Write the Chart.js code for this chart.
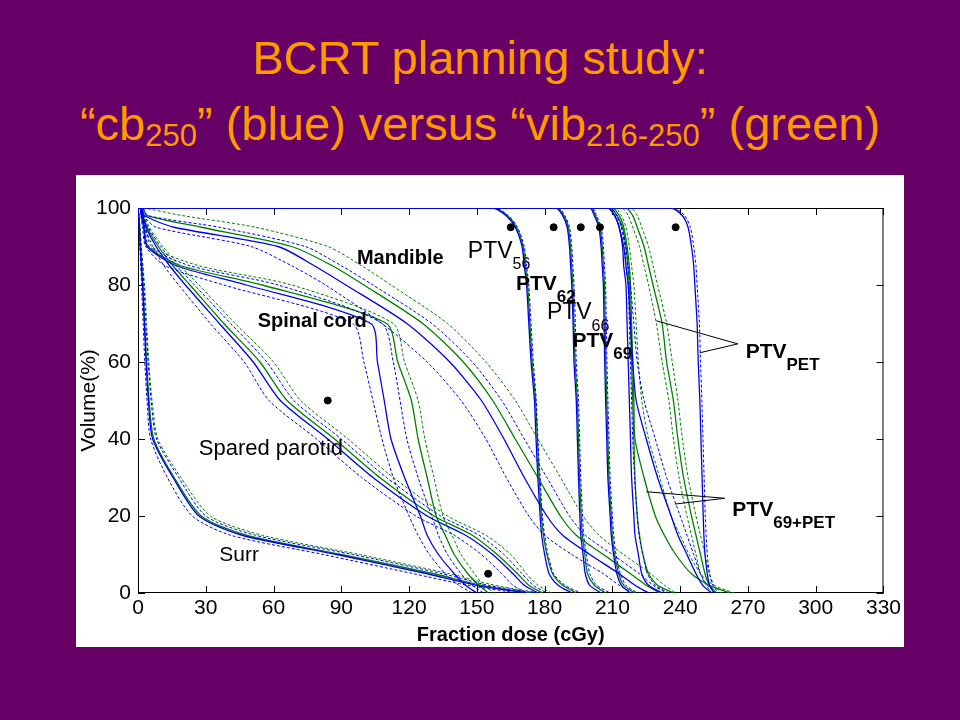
<!DOCTYPE html>
<html lang="en">
<head>
  <meta charset="UTF-8" />
  <title>BCRT planning study</title>
  <style>
    body {
      margin: 0;
      width: 960px;
      height: 720px;
      background: #660066;
      overflow: hidden;
      position: relative;
      font-family: "Liberation Sans", Arial, sans-serif;
    }
    .title {
      position: absolute;
      left: 0;
      width: 960px;
      text-align: center;
      color: #ff9900;
      font-size: 47px;
      line-height: 47px;
      white-space: nowrap;
    }
    .title .sub {
      font-size: 31px;
      vertical-align: -6px;
    }
    #box {
      position: absolute;
      left: 76px;
      top: 175px;
      width: 828px;
      height: 472px;
      background: #fff;
    }
  </style>
</head>
<body>
  <div class="title" style="top:34px">BCRT planning study:</div>
  <div class="title" style="top:100px">“cb<span class="sub">250</span>” (blue) versus “vib<span class="sub">216-250</span>” (green)</div>
  <div id="box"><canvas id="dvh" width="828" height="472"></canvas></div>

  <script src="https://cdn.jsdelivr.net/npm/chart.js"></script>
  <script>
    // volume (%) levels, every curve below gives the dose (cGy) at these levels
    const volLevels = [100, 100, 98, 95, 90, 85, 80, 70, 60, 50, 40, 30, 20, 15, 10, 5, 2, 0];

    const xTicks = [0, 30, 60, 90, 120, 150, 180, 210, 240, 270, 300, 330];
    const yTicks = [0, 20, 40, 60, 80, 100];

    // Surr
    const surrBlue      = [0, 0, 0.3, 0.6, 1, 1.5, 2, 2.8, 3.6, 4.6, 6.5, 15.5, 27, 46, 88, 128, 150, 172];
    const surrBlueDashA = [0, 0, 0.4, 0.8, 1.3, 2, 2.6, 3.5, 4.5, 5.8, 8.2, 18, 30, 52, 95, 135, 155, 176];
    const surrBlueDashB = [0, 0, 0.2, 0.4, 0.8, 1.2, 1.6, 2.3, 3, 4, 5.6, 13, 24, 41, 82, 122, 146, 168];
    const surrGreen     = [0, 0, 0.35, 0.7, 1.1, 1.7, 2.2, 3, 3.8, 4.9, 7, 16, 28, 48, 90, 131, 152, 174];
    const surrGreenDash = [0, 0, 0.5, 0.9, 1.5, 2.2, 2.9, 3.8, 4.8, 6.2, 8.8, 19, 32, 55, 98, 138, 158, 178];

    // Mandible
    const mandBlue      = [0, 1.5, 3, 16, 62, 78, 92, 119, 138, 152, 162, 171, 181, 188, 200, 213, 220, 226];
    const mandGreen     = [0, 2, 4, 28, 68, 86, 100, 126, 144, 157, 167, 177, 187, 194, 206, 218, 225, 231];
    const mandBlueDashA = [0, 1.2, 2.5, 8, 50, 68, 83, 108, 128, 143, 154, 163, 173, 180, 192, 206, 213, 219];
    const mandBlueDashB = [0, 2, 4.5, 36, 74, 90, 104, 130, 148, 161, 171, 181, 191, 198, 210, 222, 228, 234];
    const mandGreenDash = [0, 2.5, 20, 52, 84, 99, 112, 137, 154, 167, 177, 187, 197, 204, 215, 227, 233, 238];

    // Spinal cord
    const cordBlue      = [0, 1, 1.5, 2.5, 4, 17, 48, 103, 106, 109, 112, 118, 125, 128, 133, 140, 145, 150];
    const cordGreen     = [0, 1, 1.6, 2.7, 4.4, 19, 55, 110, 115, 121, 124, 128, 132, 136, 140, 146, 151, 155];
    const cordBlueDashA = [0, 0.8, 1.3, 2, 3.4, 12, 38, 95, 100, 104, 108, 113, 120, 124, 129, 136, 142, 148];
    const cordBlueDashB = [0, 1.2, 2, 3, 5, 23, 62, 108, 113, 116, 119, 124, 130, 133, 137, 143, 148, 153];
    const cordGreenDash = [0, 1.3, 2.2, 3.5, 6, 27, 68, 113, 118, 124, 127, 131, 135, 139, 143, 149, 153, 158];

    // Spared parotid
    const parBlue      = [0, 1, 2, 3.5, 8, 14, 21, 36, 51, 63, 84, 104, 128, 145, 157, 166, 171, 177];
    const parGreen     = [0, 1, 2.2, 4, 9, 15.5, 23, 38, 54, 66, 87, 107, 131, 148, 159, 168, 173, 179];
    const parBlueDashA = [0, 0.8, 1.8, 3, 6.5, 11.5, 18, 32, 47, 58, 79, 99, 123, 140, 152, 161, 166, 172];
    const parBlueDashB = [0, 1.2, 2.5, 4.5, 10, 17, 25, 41, 57, 69, 90, 110, 134, 151, 162, 170, 175, 181];
    const parGreenDash = [0, 1.4, 2.8, 5, 11, 18.5, 27, 43, 60, 72, 93, 113, 137, 154, 165, 172, 177, 183];

    // PTV56 / PTV62 / PTV66 / PTV69
    const p56Blue     = [0, 157, 163, 167, 170, 171, 172, 173, 174, 175.5, 176.2, 177, 178, 178.7, 180, 182, 186, 192];
    const p56BlueDash = [0, 158, 164, 168, 171, 172, 173, 174, 175, 176.3, 177, 178, 179, 180, 181.5, 184, 189, 196];
    const p56Green    = [0, 157, 163.5, 167.5, 170.5, 171.5, 172.5, 173.5, 174.5, 176, 176.8, 177.6, 178.6, 179.5, 181, 183.5, 188, 194];

    const p62Blue     = [0, 185, 188, 190, 191, 191.5, 192, 192.6, 193, 194, 194.5, 195, 195.6, 196, 197, 198, 200, 205];
    const p62BlueDash = [0, 186, 189, 191, 192, 192.5, 193, 193.6, 194, 195, 195.5, 196, 196.8, 197.3, 198.5, 200, 203, 209];
    const p62Green    = [0, 185.5, 188.5, 190.5, 191.5, 192, 192.5, 193, 193.5, 194.5, 195, 195.5, 196.2, 196.7, 197.8, 199, 202, 207];

    const p66Blue     = [0, 200, 202, 204, 205, 205.5, 206, 206.3, 206.6, 207, 207.5, 208, 209, 209.5, 210.5, 212, 214, 218];
    const p66BlueDash = [0, 201, 203, 205, 206, 206.5, 207, 207.3, 207.6, 208, 208.5, 209, 210, 210.6, 211.6, 213.5, 216, 221];
    const p66Green    = [0, 200.5, 202.5, 204.5, 205.5, 206, 206.5, 206.8, 207.1, 207.5, 208, 208.5, 209.5, 210, 211, 212.8, 215, 220];

    const p69Blue     = [0, 208, 211, 213, 214.5, 215, 216, 216.5, 217, 217.5, 218, 218.5, 219.5, 220, 221.5, 223, 226, 232];
    const p69BlueDash = [0, 209, 212, 214, 215.5, 216, 217, 217.5, 218, 218.5, 219, 219.8, 221, 221.8, 223.5, 225.5, 229, 235];
    const p69Green    = [0, 209, 212, 214.5, 216, 216.8, 217.5, 218, 218.5, 219, 219.5, 220, 221, 222, 223.5, 226, 230, 237];

    // PTV69+PET
    const p69petBlue      = [0, 208, 211, 213, 215, 216, 217, 218, 219, 220.5, 225, 230, 236, 239, 243, 247, 250, 254];
    const p69petBlueDash  = [0, 209, 212, 214, 216, 217, 218, 219.5, 221, 224, 229, 234, 240, 243, 246, 249, 252, 256];
    const p69petGreen     = [0, 210, 213, 215, 216.5, 217.5, 218, 218.5, 219, 219.5, 220, 224, 229, 233, 238, 245, 253, 262];
    const p69petGreenDash = [0, 211, 214, 216, 217.5, 218.5, 219.5, 220.5, 221.5, 223, 226, 231, 236, 240, 244, 249, 255, 264];

    // PTV PET
    const petGreen      = [0, 216, 219, 221, 224, 226, 228, 232, 234, 237, 239, 241.5, 245, 247, 249, 251, 253, 256];
    const petGreenDashA = [0, 214, 217, 219, 222, 224, 226, 229.5, 232, 235, 237, 239.5, 243, 245, 247, 249, 251.5, 254];
    const petGreenDashB = [0, 218, 221, 223, 226, 228, 230, 234, 236.5, 239, 241, 243.5, 247, 249, 251, 253, 255, 258];
    const petBlue       = [0, 236, 241, 243.5, 245, 246, 246.5, 247.5, 248, 248.7, 249.2, 249.7, 250.2, 250.5, 251, 252, 253, 255];
    const petBlueDash   = [0, 237, 242, 244.5, 246, 247, 247.5, 248.5, 249, 249.6, 250.1, 250.6, 251.1, 251.5, 252, 253, 254.5, 257];

    // black dots
    const markerDose = [165, 184, 196, 204.5, 238, 84, 155];
    const markerVol  = [95, 95, 95, 95, 95, 50, 5];

    // pointer lines for the PTV_PET and PTV_69+PET labels
    const petPointerDose    = [229.5, 265.5, 248.7];
    const petPointerVol     = [70.7, 64.7, 62.4];
    const p69petPointerDose = [225, 259.7, 237.6];
    const p69petPointerVol  = [26.3, 24.6, 23.1];

    const BLUE = '#0000ee';
    const GREEN = '#008000';
    const FONT = '"Liberation Sans", Arial, sans-serif';

    // [doses, colour, dashed]
    // Chart.js paints the first dataset on top, so blue comes first
    const curves = [
      [surrBlue, BLUE, false], [mandBlue, BLUE, false], [cordBlue, BLUE, false], [parBlue, BLUE, false],
      [p56Blue, BLUE, false], [p62Blue, BLUE, false], [p66Blue, BLUE, false], [p69Blue, BLUE, false],
      [p69petBlue, BLUE, false], [petBlue, BLUE, false],
      [surrBlueDashA, BLUE, true], [surrBlueDashB, BLUE, true], [mandBlueDashA, BLUE, true], [mandBlueDashB, BLUE, true],
      [cordBlueDashA, BLUE, true], [cordBlueDashB, BLUE, true], [parBlueDashA, BLUE, true], [parBlueDashB, BLUE, true],
      [p56BlueDash, BLUE, true], [p62BlueDash, BLUE, true], [p66BlueDash, BLUE, true], [p69BlueDash, BLUE, true],
      [p69petBlueDash, BLUE, true], [petBlueDash, BLUE, true],
      [surrGreen, GREEN, false], [mandGreen, GREEN, false], [cordGreen, GREEN, false], [parGreen, GREEN, false],
      [p56Green, GREEN, false], [p62Green, GREEN, false], [p66Green, GREEN, false], [p69Green, GREEN, false],
      [p69petGreen, GREEN, false], [petGreen, GREEN, false],
      [surrGreenDash, GREEN, true], [mandGreenDash, GREEN, true], [cordGreenDash, GREEN, true], [parGreenDash, GREEN, true],
      [p69petGreenDash, GREEN, true], [petGreenDashA, GREEN, true], [petGreenDashB, GREEN, true]
    ];

    // text labels inside the plot (data coordinates)
    const labels = [
      { text: 'Mandible', x: 96.9, y: 86.8, bold: true, size: 20 },
      { text: 'PTV', sub: '56', x: 146, y: 88.7, bold: false, size: 23, subSize: 16 },
      { text: 'PTV', sub: '62', x: 167.3, y: 80.3, bold: true, size: 21, subSize: 17 },
      { text: 'PTV', sub: '66', x: 181, y: 72.7, bold: false, size: 23, subSize: 16 },
      { text: 'PTV', sub: '69', x: 192.3, y: 65.3, bold: true, size: 21, subSize: 17 },
      { text: 'Spinal cord', x: 53, y: 70.5, bold: true, size: 20 },
      { text: 'Spared parotid', x: 26.9, y: 37.3, bold: false, size: 22 },
      { text: 'Surr', x: 36, y: 9.9, bold: false, size: 21 },
      { text: 'PTV', sub: 'PET', x: 269, y: 62.6, bold: true, size: 21, subSize: 17 },
      { text: 'PTV', sub: '69+PET', x: 263.1, y: 21.6, bold: true, size: 21, subSize: 17 }
    ];

    const datasets = [];

    datasets.push({
      data: markerDose.map((d, i) => ({ x: d, y: markerVol[i] })),
      showLine: false,
      pointRadius: 3.5,
      pointBackgroundColor: '#000',
      pointBorderColor: '#000'
    });

    [[petPointerDose, petPointerVol], [p69petPointerDose, p69petPointerVol]].forEach(([xs, ys]) => {
      datasets.push({
        data: xs.map((d, i) => ({ x: d, y: ys[i] })),
        borderColor: '#000',
        borderWidth: 1,
        showLine: true,
        pointRadius: 0,
        tension: 0
      });
    });

    curves.forEach(([doses, colour, dashed]) => {
      datasets.push({
        data: doses.map((d, i) => ({ x: d, y: volLevels[i] })),
        borderColor: colour,
        borderWidth: dashed ? 1 : 1.3,
        borderDash: dashed ? [3, 2] : [],
        showLine: true,
        pointRadius: 0,
        tension: 0.25
      });
    });

    // box + inward ticks on all four sides, like the matlab axes
    const frame = {
      id: 'frame',
      beforeDatasetsDraw(chart) {
        const { ctx, chartArea: a, scales: { x, y } } = chart;
        ctx.save();
        ctx.strokeStyle = '#000';
        ctx.lineWidth = 1;
        ctx.strokeRect(a.left + 0.5, a.top + 0.5, a.right - a.left - 1, a.bottom - a.top - 1);
        ctx.beginPath();
        x.ticks.forEach(t => {
          const p = Math.round(x.getPixelForValue(t.value)) + 0.5;
          ctx.moveTo(p, a.bottom); ctx.lineTo(p, a.bottom - 7);
          ctx.moveTo(p, a.top); ctx.lineTo(p, a.top + 7);
        });
        y.ticks.forEach(t => {
          const p = Math.round(y.getPixelForValue(t.value)) + 0.5;
          ctx.moveTo(a.left, p); ctx.lineTo(a.left + 7, p);
          ctx.moveTo(a.right, p); ctx.lineTo(a.right - 7, p);
        });
        ctx.stroke();
        ctx.restore();
      }
    };

    const textLabels = {
      id: 'textLabels',
      afterDatasetsDraw(chart) {
        const { ctx, scales: { x, y } } = chart;
        ctx.save();
        ctx.fillStyle = '#000';
        ctx.textAlign = 'left';
        ctx.textBaseline = 'middle';
        labels.forEach(l => {
          const px = x.getPixelForValue(l.x);
          const py = y.getPixelForValue(l.y);
          const weight = l.bold ? 'bold ' : '';
          ctx.font = `${weight}${l.size}px ${FONT}`;
          ctx.fillText(l.text, px, py);
          if (l.sub) {
            const w = ctx.measureText(l.text).width;
            ctx.font = `${weight}${l.subSize}px ${FONT}`;
            ctx.fillText(l.sub, px + w, py + 13);
          }
        });
        ctx.restore();
      }
    };

    new Chart(document.getElementById('dvh'), {
      type: 'scatter',
      data: { datasets },
      options: {
        responsive: false,
        animation: false,
        layout: { padding: { left: 0, top: 33, right: 20, bottom: 0 } },
        plugins: { legend: { display: false }, tooltip: { enabled: false } },
        scales: {
          x: {
            type: 'linear',
            min: 0,
            max: 330,
            afterBuildTicks: s => { s.ticks = xTicks.map(v => ({ value: v })); },
            afterFit: s => { s.height = 54; },
            grid: { display: false, drawTicks: false },
            border: { display: false },
            ticks: { color: '#000', padding: 3, autoSkip: false, maxRotation: 0, font: { family: FONT, size: 21 } },
            title: {
              display: true,
              text: 'Fraction dose (cGy)',
              color: '#000',
              padding: { top: 0, bottom: 0 },
              font: { family: FONT, size: 20, weight: 'bold' }
            }
          },
          y: {
            type: 'linear',
            min: 0,
            max: 100,
            afterBuildTicks: s => { s.ticks = yTicks.map(v => ({ value: v })); },
            afterFit: s => { s.width = 62; },
            grid: { display: false, drawTicks: false },
            border: { display: false },
            ticks: { color: '#000', padding: 7, font: { family: FONT, size: 21 } },
            title: {
              display: true,
              text: 'Volume(%)',
              color: '#000',
              padding: { top: 1, bottom: 0 },
              font: { family: FONT, size: 21 }
            }
          }
        }
      },
      plugins: [frame, textLabels]
    });
  </script>
</body>
</html>
